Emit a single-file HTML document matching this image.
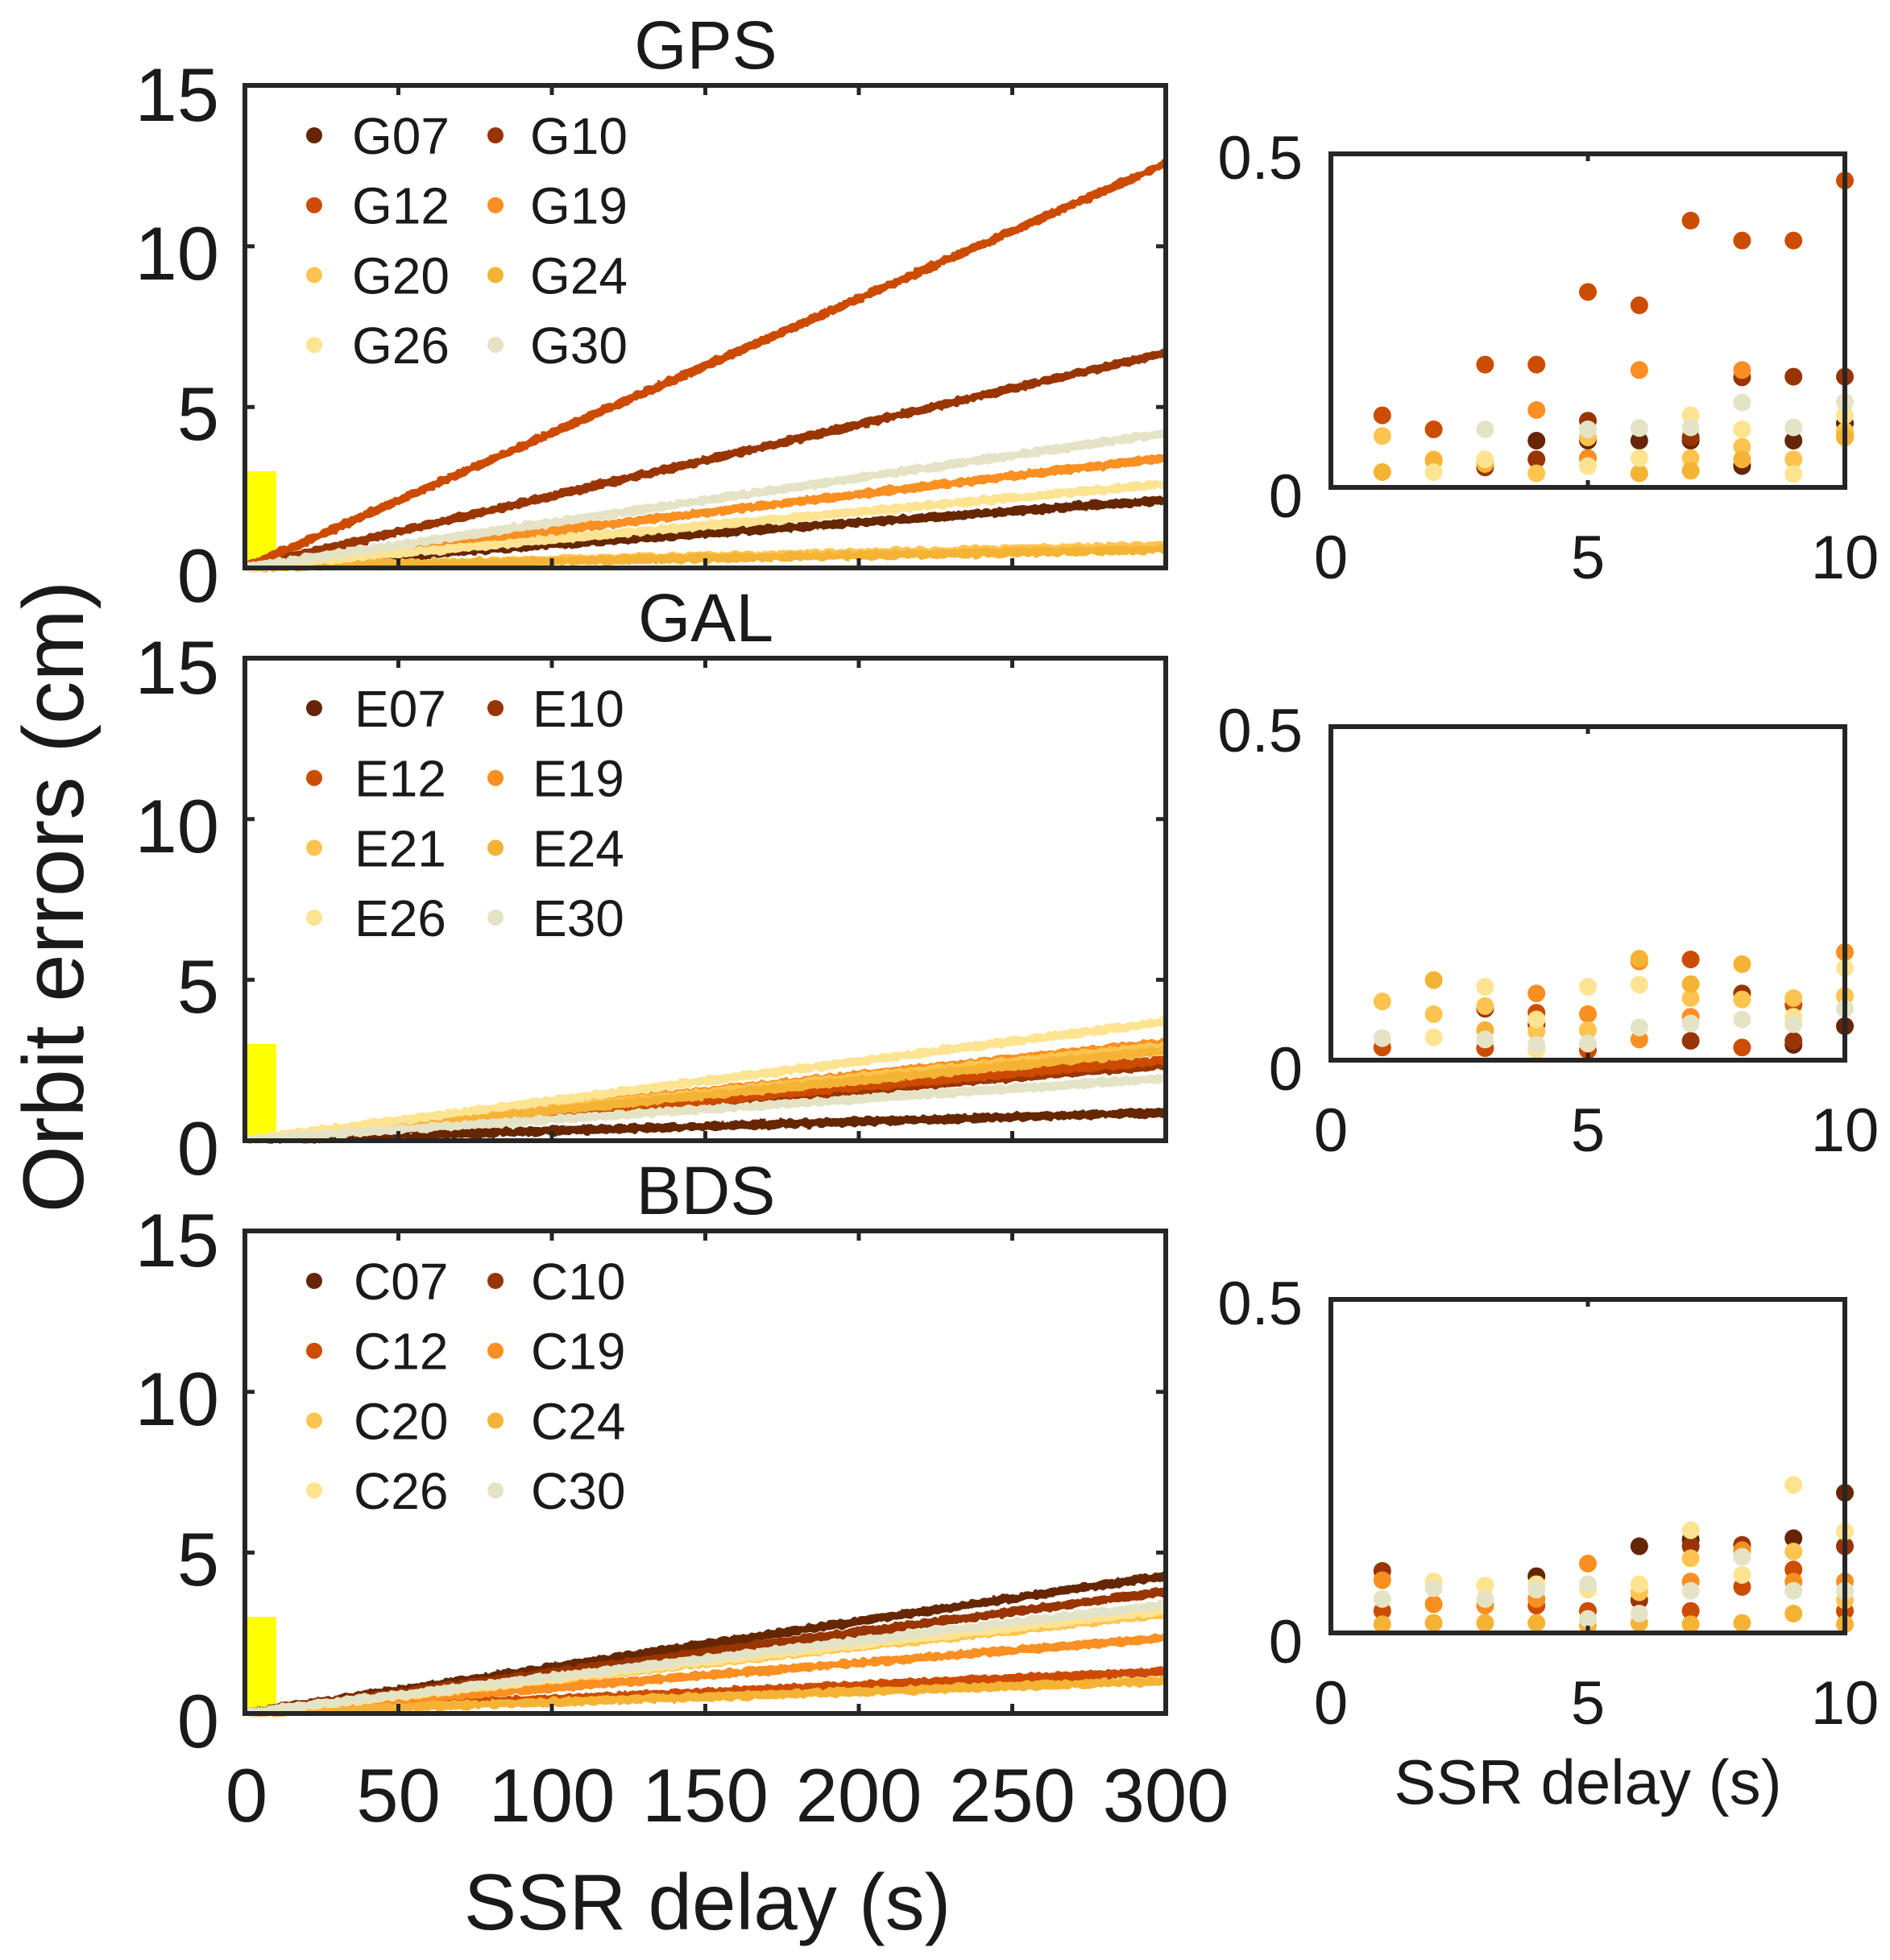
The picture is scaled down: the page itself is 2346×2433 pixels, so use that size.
<!DOCTYPE html>
<html><head><meta charset="utf-8"><style>html,body{margin:0;padding:0;background:#fff}svg{display:block}</style></head>
<body>
<svg width="2346" height="2433" viewBox="0 0 2346 2433" xmlns="http://www.w3.org/2000/svg" font-family="Liberation Sans, Arial, sans-serif" fill="#1a1a1a">
<defs>
<filter id="jit" x="-2%" y="-10%" width="104%" height="120%">
<feTurbulence type="fractalNoise" baseFrequency="0.12" numOctaves="2" seed="4"/>
<feDisplacementMap in="SourceGraphic" scale="7" xChannelSelector="R" yChannelSelector="G"/>
</filter>
</defs>
<rect width="2346" height="2433" fill="#fff"/>

<!-- Titles -->
<text x="876" y="85" font-size="84" text-anchor="middle">GPS</text>
<text x="876" y="796" font-size="84" text-anchor="middle">GAL</text>
<text x="876" y="1507" font-size="84" text-anchor="middle">BDS</text>

<!-- Y label -->
<text transform="translate(103,1113) rotate(-90)" font-size="107" text-anchor="middle">Orbit errors (cm)</text>

<!-- ===== GPS main ===== -->
<rect x="306" y="585" width="37" height="118" fill="#ffff00"/>
<g stroke-width="11" fill="none" filter="url(#jit)">
<line x1="306" y1="704" x2="1447" y2="620.7" stroke="#662506"/>
<line x1="306" y1="704" x2="1447" y2="437.9" stroke="#993404"/>
<line x1="306" y1="704" x2="1447" y2="203.1" stroke="#cc4c02"/>
<line x1="306" y1="704" x2="1447" y2="568.4" stroke="#fa8f21"/>
<line x1="306" y1="704" x2="1447" y2="677.4" stroke="#fec44f"/>
<line x1="306" y1="704" x2="1447" y2="682.2" stroke="#f5b335"/>
<line x1="306" y1="704" x2="1447" y2="600.8" stroke="#fee391"/>
<line x1="306" y1="704" x2="1447" y2="537.7" stroke="#e5e3c5"/>
</g>
<g stroke="#262626" stroke-width="5">
<path d="M494.5 106v12M685 106v12M875.5 106v12M1066 106v12M1256.5 106v12"/>
<path d="M494.5 705v-12M685 705v-12M875.5 705v-12M1066 705v-12M1256.5 705v-12"/>
<path d="M304 505.3h12M304 305.7h12M1447 505.3h-12M1447 305.7h-12"/>
</g>
<rect x="304" y="106" width="1143" height="599" fill="none" stroke="#262626" stroke-width="6"/>
<g font-size="94" text-anchor="end">
<text x="272" y="150">15</text><text x="272" y="347">10</text><text x="272" y="546">5</text><text x="272" y="747">0</text>
</g>
<g font-size="64">
<circle cx="390" cy="168" r="10" fill="#662506"/><text x="437" y="191">G07</text>
<circle cx="615" cy="168" r="10" fill="#993404"/><text x="658" y="191">G10</text>
<circle cx="390" cy="254.7" r="10" fill="#cc4c02"/><text x="437" y="277.7">G12</text>
<circle cx="615" cy="254.7" r="10" fill="#fa8f21"/><text x="658" y="277.7">G19</text>
<circle cx="390" cy="341.4" r="10" fill="#fec44f"/><text x="437" y="364.4">G20</text>
<circle cx="615" cy="341.4" r="10" fill="#f5b335"/><text x="658" y="364.4">G24</text>
<circle cx="390" cy="428.1" r="10" fill="#fee391"/><text x="437" y="451.1">G26</text>
<circle cx="615" cy="428.1" r="10" fill="#e5e3c5"/><text x="658" y="451.1">G30</text>
</g>

<!-- ===== GAL main ===== -->
<rect x="306" y="1296" width="37" height="118" fill="#ffff00"/>
<g stroke-width="11" fill="none" filter="url(#jit)">
<line x1="306" y1="1415" x2="1447" y2="1380.9" stroke="#662506"/>
<line x1="306" y1="1415" x2="1447" y2="1322.2" stroke="#993404"/>
<line x1="306" y1="1415" x2="1447" y2="1316.2" stroke="#cc4c02"/>
<line x1="306" y1="1415" x2="1447" y2="1294.2" stroke="#fa8f21"/>
<line x1="306" y1="1415" x2="1447" y2="1298.2" stroke="#fec44f"/>
<line x1="306" y1="1415" x2="1447" y2="1304.2" stroke="#f5b335"/>
<line x1="306" y1="1415" x2="1447" y2="1268.3" stroke="#fee391"/>
<line x1="306" y1="1415" x2="1447" y2="1338.5" stroke="#e5e3c5"/>
</g>
<g stroke="#262626" stroke-width="5">
<path d="M494.5 817v12M685 817v12M875.5 817v12M1066 817v12M1256.5 817v12"/>
<path d="M494.5 1416v-12M685 1416v-12M875.5 1416v-12M1066 1416v-12M1256.5 1416v-12"/>
<path d="M304 1216.3h12M304 1016.7h12M1447 1216.3h-12M1447 1016.7h-12"/>
</g>
<rect x="304" y="817" width="1143" height="599" fill="none" stroke="#262626" stroke-width="6"/>
<g font-size="94" text-anchor="end">
<text x="272" y="861">15</text><text x="272" y="1058">10</text><text x="272" y="1257">5</text><text x="272" y="1458">0</text>
</g>
<g font-size="64">
<circle cx="390" cy="879" r="10" fill="#662506"/><text x="440" y="902">E07</text>
<circle cx="615" cy="879" r="10" fill="#993404"/><text x="661" y="902">E10</text>
<circle cx="390" cy="965.7" r="10" fill="#cc4c02"/><text x="440" y="988.7">E12</text>
<circle cx="615" cy="965.7" r="10" fill="#fa8f21"/><text x="661" y="988.7">E19</text>
<circle cx="390" cy="1052.4" r="10" fill="#fec44f"/><text x="440" y="1075.4">E21</text>
<circle cx="615" cy="1052.4" r="10" fill="#f5b335"/><text x="661" y="1075.4">E24</text>
<circle cx="390" cy="1139.1" r="10" fill="#fee391"/><text x="440" y="1162.1">E26</text>
<circle cx="615" cy="1139.1" r="10" fill="#e5e3c5"/><text x="661" y="1162.1">E30</text>
</g>

<!-- ===== BDS main ===== -->
<rect x="306" y="2007" width="37" height="118" fill="#ffff00"/>
<g stroke-width="11" fill="none" filter="url(#jit)">
<line x1="306" y1="2126" x2="1447" y2="1955.7" stroke="#662506"/>
<line x1="306" y1="2126" x2="1447" y2="1975.7" stroke="#993404"/>
<line x1="306" y1="2126" x2="1447" y2="2074.7" stroke="#cc4c02"/>
<line x1="306" y1="2126" x2="1447" y2="2033.2" stroke="#fa8f21"/>
<line x1="306" y1="2126" x2="1447" y2="2003.2" stroke="#fec44f"/>
<line x1="306" y1="2126" x2="1447" y2="2086.7" stroke="#f5b335"/>
<line x1="306" y1="2126" x2="1447" y2="1999.2" stroke="#fee391"/>
<line x1="306" y1="2126" x2="1447" y2="1992" stroke="#e5e3c5"/>
</g>
<g stroke="#262626" stroke-width="5">
<path d="M494.5 1528v12M685 1528v12M875.5 1528v12M1066 1528v12M1256.5 1528v12"/>
<path d="M494.5 2127v-12M685 2127v-12M875.5 2127v-12M1066 2127v-12M1256.5 2127v-12"/>
<path d="M304 1927.3h12M304 1727.7h12M1447 1927.3h-12M1447 1727.7h-12"/>
</g>
<rect x="304" y="1528" width="1143" height="599" fill="none" stroke="#262626" stroke-width="6"/>
<g font-size="94" text-anchor="end">
<text x="272" y="1572">15</text><text x="272" y="1769">10</text><text x="272" y="1968">5</text><text x="272" y="2169">0</text>
</g>
<g font-size="64">
<circle cx="390" cy="1590" r="10" fill="#662506"/><text x="439" y="1613">C07</text>
<circle cx="615" cy="1590" r="10" fill="#993404"/><text x="659" y="1613">C10</text>
<circle cx="390" cy="1676.7" r="10" fill="#cc4c02"/><text x="439" y="1699.7">C12</text>
<circle cx="615" cy="1676.7" r="10" fill="#fa8f21"/><text x="659" y="1699.7">C19</text>
<circle cx="390" cy="1763.4" r="10" fill="#fec44f"/><text x="439" y="1786.4">C20</text>
<circle cx="615" cy="1763.4" r="10" fill="#f5b335"/><text x="659" y="1786.4">C24</text>
<circle cx="390" cy="1850.1" r="10" fill="#fee391"/><text x="439" y="1873.1">C26</text>
<circle cx="615" cy="1850.1" r="10" fill="#e5e3c5"/><text x="659" y="1873.1">C30</text>
</g>
<g font-size="94" text-anchor="middle">
<text x="306" y="2261">0</text><text x="494.5" y="2261">50</text><text x="685" y="2261">100</text><text x="875.5" y="2261">150</text><text x="1066" y="2261">200</text><text x="1256.5" y="2261">250</text><text x="1447" y="2261">300</text>
</g>
<text x="878" y="2395" font-size="98" text-anchor="middle">SSR delay (s)</text>

<!-- ===== Insets ===== -->
<!-- GPS inset -->
<g transform="translate(1652,605)">
<g fill="#662506"><circle cx="255.2" cy="-58" r="11"/><circle cx="319" cy="-58" r="11"/><circle cx="382.8" cy="-58" r="11"/><circle cx="446.6" cy="-58" r="11"/><circle cx="510.4" cy="-26.5" r="11"/><circle cx="574.2" cy="-58" r="11"/><circle cx="638" cy="-79.5" r="11"/></g>
<g fill="#993404"><circle cx="191.4" cy="-24.8" r="11"/><circle cx="255.2" cy="-34.8" r="11"/><circle cx="319" cy="-82.8" r="11"/><circle cx="446.6" cy="-62.1" r="11"/><circle cx="510.4" cy="-136.6" r="11"/><circle cx="574.2" cy="-137.4" r="11"/><circle cx="638" cy="-137.4" r="11"/></g>
<g fill="#cc4c02"><circle cx="63.8" cy="-89.4" r="11"/><circle cx="127.6" cy="-72" r="11"/><circle cx="191.4" cy="-152.4" r="11"/><circle cx="255.2" cy="-152.4" r="11"/><circle cx="319" cy="-242.6" r="11"/><circle cx="382.8" cy="-226" r="11"/><circle cx="446.6" cy="-331.2" r="11"/><circle cx="510.4" cy="-306.4" r="11"/><circle cx="574.2" cy="-306.4" r="11"/><circle cx="638" cy="-380.9" r="11"/></g>
<g fill="#fa8f21"><circle cx="255.2" cy="-96" r="11"/><circle cx="319" cy="-36.4" r="11"/><circle cx="382.8" cy="-145.7" r="11"/><circle cx="510.4" cy="-145.7" r="11"/><circle cx="638" cy="-66.2" r="11"/></g>
<g fill="#fec44f"><circle cx="63.8" cy="-63.8" r="11"/><circle cx="127.6" cy="-34.8" r="11"/><circle cx="255.2" cy="-17.4" r="11"/><circle cx="319" cy="-62.1" r="11"/><circle cx="446.6" cy="-36.4" r="11"/><circle cx="510.4" cy="-50.5" r="11"/><circle cx="574.2" cy="-34.8" r="11"/><circle cx="638" cy="-69.6" r="11"/></g>
<g fill="#f5b335"><circle cx="63.8" cy="-19" r="11"/><circle cx="127.6" cy="-33.1" r="11"/><circle cx="191.4" cy="-29" r="11"/><circle cx="382.8" cy="-17.4" r="11"/><circle cx="446.6" cy="-20.7" r="11"/><circle cx="510.4" cy="-34.8" r="11"/><circle cx="638" cy="-62.1" r="11"/></g>
<g fill="#fee391"><circle cx="127.6" cy="-19" r="11"/><circle cx="191.4" cy="-34.8" r="11"/><circle cx="319" cy="-26.5" r="11"/><circle cx="382.8" cy="-36.4" r="11"/><circle cx="446.6" cy="-89.4" r="11"/><circle cx="510.4" cy="-72" r="11"/><circle cx="574.2" cy="-16.6" r="11"/><circle cx="638" cy="-89.4" r="11"/></g>
<g fill="#e5e3c5"><circle cx="191.4" cy="-72" r="11"/><circle cx="319" cy="-72" r="11"/><circle cx="382.8" cy="-73.7" r="11"/><circle cx="446.6" cy="-74.5" r="11"/><circle cx="510.4" cy="-105.2" r="11"/><circle cx="574.2" cy="-74.5" r="11"/><circle cx="638" cy="-106" r="11"/></g>
</g>
<path d="M1971 191v9M1971 605v-9" stroke="#262626" stroke-width="5"/>
<rect x="1652" y="191" width="638" height="414" fill="none" stroke="#262626" stroke-width="6"/>

<!-- GAL inset -->
<g transform="translate(1652,1316)">
<g fill="#662506"><circle cx="574.2" cy="-19" r="11"/><circle cx="638" cy="-42.2" r="11"/></g>
<g fill="#993404"><circle cx="191.4" cy="-63.8" r="11"/><circle cx="255.2" cy="-43.9" r="11"/><circle cx="446.6" cy="-24" r="11"/><circle cx="510.4" cy="-82.8" r="11"/><circle cx="574.2" cy="-24" r="11"/></g>
<g fill="#cc4c02"><circle cx="63.8" cy="-15.7" r="11"/><circle cx="191.4" cy="-14.9" r="11"/><circle cx="255.2" cy="-58.8" r="11"/><circle cx="319" cy="-12.4" r="11"/><circle cx="446.6" cy="-125" r="11"/><circle cx="510.4" cy="-15.7" r="11"/><circle cx="574.2" cy="-68.7" r="11"/></g>
<g fill="#fa8f21"><circle cx="255.2" cy="-82.8" r="11"/><circle cx="319" cy="-57.1" r="11"/><circle cx="382.8" cy="-25.7" r="11"/><circle cx="382.8" cy="-122.5" r="11"/><circle cx="446.6" cy="-53.8" r="11"/><circle cx="638" cy="-134.1" r="11"/></g>
<g fill="#fec44f"><circle cx="63.8" cy="-72.9" r="11"/><circle cx="127.6" cy="-57.1" r="11"/><circle cx="191.4" cy="-67.1" r="11"/><circle cx="255.2" cy="-35.6" r="11"/><circle cx="319" cy="-37.3" r="11"/><circle cx="446.6" cy="-77" r="11"/><circle cx="510.4" cy="-75.3" r="11"/><circle cx="574.2" cy="-77" r="11"/><circle cx="638" cy="-79.5" r="11"/></g>
<g fill="#f5b335"><circle cx="127.6" cy="-99.4" r="11"/><circle cx="191.4" cy="-37.3" r="11"/><circle cx="382.8" cy="-125.9" r="11"/><circle cx="446.6" cy="-94.4" r="11"/><circle cx="510.4" cy="-119.2" r="11"/></g>
<g fill="#fee391"><circle cx="127.6" cy="-28.2" r="11"/><circle cx="191.4" cy="-91.1" r="11"/><circle cx="255.2" cy="-50.5" r="11"/><circle cx="255.2" cy="-12.4" r="11"/><circle cx="319" cy="-91.1" r="11"/><circle cx="382.8" cy="-93.6" r="11"/><circle cx="574.2" cy="-53.8" r="11"/><circle cx="638" cy="-114.3" r="11"/></g>
<g fill="#e5e3c5"><circle cx="63.8" cy="-27.3" r="11"/><circle cx="191.4" cy="-25.7" r="11"/><circle cx="255.2" cy="-19" r="11"/><circle cx="319" cy="-20.7" r="11"/><circle cx="382.8" cy="-40.6" r="11"/><circle cx="446.6" cy="-45.5" r="11"/><circle cx="510.4" cy="-50.5" r="11"/><circle cx="574.2" cy="-44.7" r="11"/><circle cx="638" cy="-63.8" r="11"/></g>
</g>
<path d="M1971 902v9M1971 1316v-9" stroke="#262626" stroke-width="5"/>
<rect x="1652" y="902" width="638" height="414" fill="none" stroke="#262626" stroke-width="6"/>

<!-- BDS inset -->
<g transform="translate(1652,2027)">
<g fill="#662506"><circle cx="255.2" cy="-70.4" r="11"/><circle cx="382.8" cy="-107.6" r="11"/><circle cx="446.6" cy="-115.9" r="11"/><circle cx="574.2" cy="-117.6" r="11"/><circle cx="638" cy="-173.9" r="11"/></g>
<g fill="#993404"><circle cx="63.8" cy="-77" r="11"/><circle cx="382.8" cy="-40.6" r="11"/><circle cx="446.6" cy="-107.6" r="11"/><circle cx="510.4" cy="-109.3" r="11"/><circle cx="638" cy="-107.6" r="11"/></g>
<g fill="#cc4c02"><circle cx="63.8" cy="-27.3" r="11"/><circle cx="255.2" cy="-33.9" r="11"/><circle cx="319" cy="-27.3" r="11"/><circle cx="446.6" cy="-27.3" r="11"/><circle cx="510.4" cy="-57.1" r="11"/><circle cx="574.2" cy="-78.7" r="11"/><circle cx="638" cy="-27.3" r="11"/></g>
<g fill="#fa8f21"><circle cx="63.8" cy="-65.4" r="11"/><circle cx="127.6" cy="-35.6" r="11"/><circle cx="191.4" cy="-33.9" r="11"/><circle cx="255.2" cy="-42.2" r="11"/><circle cx="319" cy="-86.1" r="11"/><circle cx="446.6" cy="-63.8" r="11"/><circle cx="510.4" cy="-102.7" r="11"/><circle cx="574.2" cy="-63.8" r="11"/><circle cx="638" cy="-63.8" r="11"/></g>
<g fill="#fec44f"><circle cx="382.8" cy="-50.5" r="11"/><circle cx="446.6" cy="-92.7" r="11"/><circle cx="574.2" cy="-101" r="11"/><circle cx="638" cy="-40.6" r="11"/></g>
<g fill="#f5b335"><circle cx="63.8" cy="-10.8" r="11"/><circle cx="127.6" cy="-12.4" r="11"/><circle cx="191.4" cy="-12.4" r="11"/><circle cx="255.2" cy="-12.4" r="11"/><circle cx="319" cy="-9.1" r="11"/><circle cx="382.8" cy="-12.4" r="11"/><circle cx="446.6" cy="-10.8" r="11"/><circle cx="510.4" cy="-12.4" r="11"/><circle cx="574.2" cy="-24" r="11"/><circle cx="638" cy="-10.8" r="11"/></g>
<g fill="#fee391"><circle cx="127.6" cy="-63.8" r="11"/><circle cx="191.4" cy="-58.8" r="11"/><circle cx="255.2" cy="-60.4" r="11"/><circle cx="319" cy="-53.8" r="11"/><circle cx="382.8" cy="-60.4" r="11"/><circle cx="446.6" cy="-127.5" r="11"/><circle cx="510.4" cy="-72" r="11"/><circle cx="574.2" cy="-183.8" r="11"/><circle cx="638" cy="-125.9" r="11"/></g>
<g fill="#e5e3c5"><circle cx="63.8" cy="-42.2" r="11"/><circle cx="127.6" cy="-55.5" r="11"/><circle cx="191.4" cy="-42.2" r="11"/><circle cx="255.2" cy="-53.8" r="11"/><circle cx="319" cy="-17.4" r="11"/><circle cx="319" cy="-60.4" r="11"/><circle cx="382.8" cy="-24" r="11"/><circle cx="446.6" cy="-52.2" r="11"/><circle cx="510.4" cy="-94.4" r="11"/><circle cx="574.2" cy="-52.2" r="11"/><circle cx="638" cy="-52.2" r="11"/></g>
</g>
<path d="M1971 1613v9M1971 2027v-9" stroke="#262626" stroke-width="5"/>
<rect x="1652" y="1613" width="638" height="414" fill="none" stroke="#262626" stroke-width="6"/>

<!-- inset tick labels -->
<g font-size="76" text-anchor="end">
<text x="1617" y="222">0.5</text><text x="1617" y="642">0</text>
<text x="1617" y="933">0.5</text><text x="1617" y="1353">0</text>
<text x="1617" y="1644">0.5</text><text x="1617" y="2064">0</text>
</g>
<g font-size="76" text-anchor="middle">
<text x="1652" y="718">0</text><text x="1971" y="718">5</text><text x="2290" y="718">10</text>
<text x="1652" y="1429">0</text><text x="1971" y="1429">5</text><text x="2290" y="1429">10</text>
<text x="1652" y="2140">0</text><text x="1971" y="2140">5</text><text x="2290" y="2140">10</text>
</g>
<text x="1971" y="2239" font-size="78" text-anchor="middle">SSR delay (s)</text>
</svg>
</body></html>
